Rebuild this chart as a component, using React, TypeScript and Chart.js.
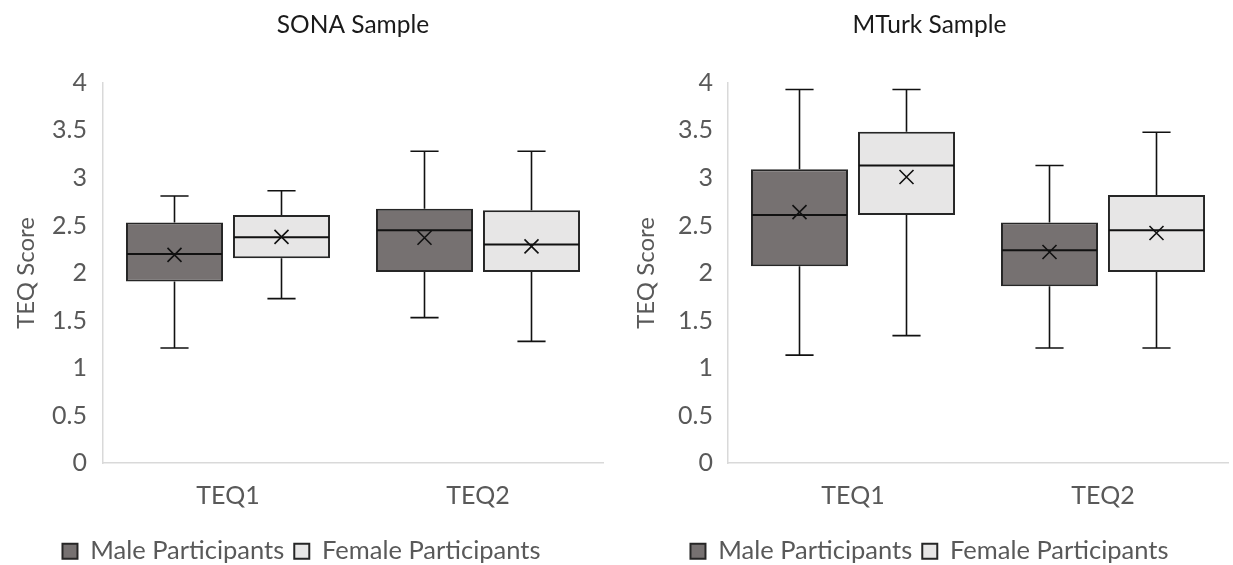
import React, { useEffect, useRef } from 'react';
import { Chart, registerables } from 'chart.js';

Chart.register(...registerables);

const categories = ['TEQ1', 'TEQ2'];
const seriesNames = ['Male Participants', 'Female Participants'];
const yMin = 0;
const yMax = 4;
const yStep = 0.5;

// SONA sample
const sonaMaleMin = [1.21, 1.53];
const sonaMaleQ1 = [1.91, 2.01];
const sonaMaleMedian = [2.2, 2.45];
const sonaMaleQ3 = [2.53, 2.675];
const sonaMaleMax = [2.81, 3.28];
const sonaMaleMean = [2.19, 2.37];

const sonaFemaleMin = [1.73, 1.28];
const sonaFemaleQ1 = [2.155, 2.01];
const sonaFemaleMedian = [2.375, 2.3];
const sonaFemaleQ3 = [2.61, 2.66];
const sonaFemaleMax = [2.865, 3.28];
const sonaFemaleMean = [2.38, 2.28];

// MTurk sample
const mturkMaleMin = [1.135, 1.21];
const mturkMaleQ1 = [2.07, 1.86];
const mturkMaleMedian = [2.61, 2.24];
const mturkMaleQ3 = [3.09, 2.53];
const mturkMaleMax = [3.93, 3.13];
const mturkMaleMean = [2.64, 2.22];

const mturkFemaleMin = [1.34, 1.21];
const mturkFemaleQ1 = [2.61, 2.01];
const mturkFemaleMedian = [3.13, 2.45];
const mturkFemaleQ3 = [3.485, 2.82];
const mturkFemaleMax = [3.93, 3.48];
const mturkFemaleMean = [3.01, 2.42];

const FONT = 'Lato, "Open Sans", "Noto Sans", sans-serif';
const MALE_FILL = '#767171';
const FEMALE_FILL = '#e7e6e6';
const EDGE = '#262626';
const TEXT_GREY = '#595959';
const AXIS_GREY = '#d9d9d9';

const boxExtras = {
  id: 'boxExtras',
  afterDatasetsDraw(chart: any) {
    const ctx = chart.ctx;
    const y = chart.scales.y;
    chart.data.datasets.forEach((ds: any, i: number) => {
      const meta = chart.getDatasetMeta(i);
      meta.data.forEach((bar: any, j: number) => {
        const x = bar.x;
        const w = bar.width;
        const pMin = y.getPixelForValue(ds.whiskerMin[j]);
        const pMax = y.getPixelForValue(ds.whiskerMax[j]);
        const pQ1 = y.getPixelForValue(ds.data[j][0]);
        const pQ3 = y.getPixelForValue(ds.data[j][1]);
        const pMed = y.getPixelForValue(ds.median[j]);
        const pMean = y.getPixelForValue(ds.mean[j]);
        const cap = w * 0.29;
        ctx.save();
        ctx.strokeStyle = '#111';
        ctx.lineWidth = 1.6;
        ctx.beginPath();
        ctx.moveTo(x, pQ3);
        ctx.lineTo(x, pMax);
        ctx.moveTo(x - cap / 2, pMax);
        ctx.lineTo(x + cap / 2, pMax);
        ctx.moveTo(x, pQ1);
        ctx.lineTo(x, pMin);
        ctx.moveTo(x - cap / 2, pMin);
        ctx.lineTo(x + cap / 2, pMin);
        ctx.stroke();
        ctx.lineWidth = 2;
        ctx.beginPath();
        ctx.moveTo(x - w / 2 + 1, pMed);
        ctx.lineTo(x + w / 2 - 1, pMed);
        ctx.stroke();
        const s = 7;
        ctx.lineWidth = 1.6;
        ctx.beginPath();
        ctx.moveTo(x - s, pMean - s);
        ctx.lineTo(x + s, pMean + s);
        ctx.moveTo(x + s, pMean - s);
        ctx.lineTo(x - s, pMean + s);
        ctx.stroke();
        ctx.restore();
      });
    });
  },
};

function makeDataset(label: string, fill: string, q1: number[], q3: number[], med: number[], mn: number[], mx: number[], mean: number[]) {
  return {
    label,
    data: q1.map((v, i) => [v, q3[i]]),
    backgroundColor: fill,
    borderColor: EDGE,
    borderWidth: 2,
    borderSkipped: false,
    median: med,
    whiskerMin: mn,
    whiskerMax: mx,
    mean,
  } as any;
}

function buildConfig(title: string, datasets: any[], opts: { padLeft: number; padRight: number; yWidth: number; titleFull: boolean; yTitlePad: number; tickPad: number }) {
  return {
    type: 'bar',
    data: { labels: categories, datasets },
    plugins: [boxExtras],
    options: {
      animation: false,
      responsive: false,
      maintainAspectRatio: false,
      layout: { padding: { left: opts.padLeft, right: opts.padRight, top: 0, bottom: -9 } },
      datasets: { bar: { categoryPercentage: 0.856, barPercentage: 0.907 } },
      plugins: {
        tooltip: { enabled: false },
        title: {
          display: true,
          text: title,
          fullSize: opts.titleFull,
          color: '#1a1a1a',
          font: { family: FONT, size: 24.5, weight: 'normal' },
          padding: { top: 10.5, bottom: 43 },
        },
        legend: {
          display: true,
          position: 'bottom',
          labels: {
            boxWidth: 15,
            boxHeight: 15,
            padding: 10,
            color: TEXT_GREY,
            font: { family: FONT, size: 25.5 },
          },
        },
      },
      scales: {
        x: {
          type: 'category',
          grid: { display: false, drawTicks: false },
          border: { display: true, color: AXIS_GREY, width: 1.5 },
          ticks: { color: TEXT_GREY, font: { family: FONT, size: 25 }, padding: 18 },
          afterFit(scale: any) {
            const lg = scale.chart.legend;
            const lh = lg ? lg.height : 40;
            scale.height = 565 + 9 - 463 - lh;
          },
        },
        y: {
          type: 'linear',
          min: yMin,
          max: yMax,
          ticks: {
            stepSize: yStep,
            color: TEXT_GREY,
            font: { family: FONT, size: 25 },
            padding: opts.tickPad,
            callback: (v: any) => String(Number(v)),
          },
          grid: { display: false, drawTicks: false },
          border: { display: true, color: AXIS_GREY, width: 1.5 },
          title: {
            display: true,
            text: 'TEQ Score',
            color: TEXT_GREY,
            font: { family: FONT, size: 24 },
            padding: { top: opts.yTitlePad, bottom: 0 },
          },
          afterFit(scale: any) {
            scale.width = opts.yWidth;
          },
        },
      },
    },
  } as any;
}

function Panel({ left, width, config }: { left: number; width: number; config: any }) {
  const ref = useRef<HTMLCanvasElement | null>(null);
  useEffect(() => {
    if (!ref.current) return;
    const chart = new Chart(ref.current, config);
    return () => chart.destroy();
  }, [config]);
  return (
    <div style={{ position: 'absolute', left, top: 0, width, height: 565 }}>
      <canvas ref={ref} width={width} height={565} style={{ width, height: 565, display: 'block' }} />
    </div>
  );
}

const sonaConfig = buildConfig(
  'SONA Sample',
  [
    makeDataset(seriesNames[0], MALE_FILL, sonaMaleQ1, sonaMaleQ3, sonaMaleMedian, sonaMaleMin, sonaMaleMax, sonaMaleMean),
    makeDataset(seriesNames[1], FEMALE_FILL, sonaFemaleQ1, sonaFemaleQ3, sonaFemaleMedian, sonaFemaleMin, sonaFemaleMax, sonaFemaleMean),
  ],
  { padLeft: 0, padRight: 13, yWidth: 103, titleFull: false, yTitlePad: 12, tickPad: 16 }
);

const mturkConfig = buildConfig(
  'MTurk Sample',
  [
    makeDataset(seriesNames[0], MALE_FILL, mturkMaleQ1, mturkMaleQ3, mturkMaleMedian, mturkMaleMin, mturkMaleMax, mturkMaleMean),
    makeDataset(seriesNames[1], FEMALE_FILL, mturkFemaleQ1, mturkFemaleQ3, mturkFemaleMedian, mturkFemaleMin, mturkFemaleMax, mturkFemaleMean),
  ],
  { padLeft: 15, padRight: 5, yWidth: 97, titleFull: true, yTitlePad: 1, tickPad: 15 }
);

export default function App() {
  return (
    <div style={{ position: 'absolute', left: 0, top: 0, width: 1233, height: 565, background: '#fff' }}>
      <Panel left={0} width={616} config={sonaConfig} />
      <Panel left={616} width={617} config={mturkConfig} />
    </div>
  );
}
